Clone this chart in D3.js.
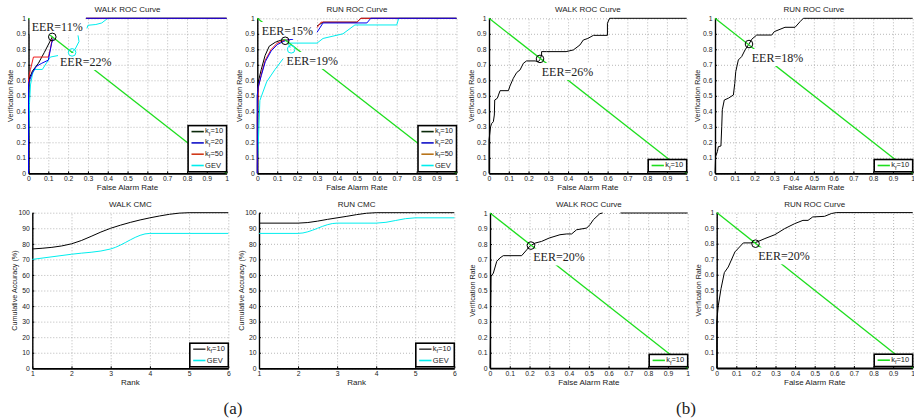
<!DOCTYPE html>
<html>
<head>
<meta charset="utf-8">
<script src="https://cdn.jsdelivr.net/npm/d3@7"></script>
<style>
  body { margin: 0; background: #fff; }
  svg { display: block; }
  text { font-family: "Liberation Sans", Arial, sans-serif; fill: #222; }
  .ann { font-family: "Liberation Serif", "Times New Roman", serif; fill: #222; }
  .grid .domain { display: none; }
  .grid line { stroke: #a6a6a6; stroke-width: 0.8; stroke-dasharray: 1 2; }
  .axis .domain { stroke: #000; }
  .axis line { stroke: #000; }
</style>
</head>
<body>
<svg id="fig" width="914" height="419"></svg>
<script>
// ---- tick values / labels ----
const rocTicks = [0, 0.1, 0.2, 0.3, 0.4, 0.5, 0.6, 0.7, 0.8, 0.9, 1];
const rocTickLabels = ['0', '0.1', '0.2', '0.3', '0.4', '0.5', '0.6', '0.7', '0.8', '0.9', '1'];
const cmcRanks = [1, 2, 3, 4, 5, 6];
const cmcTicks = [0, 10, 20, 30, 40, 50, 60, 70, 80, 90, 100];

// ---- (a) WALK ROC, segments of [far, vr] ----
const walkA_k10 = [
  [[0, 0], [0, 0.6], [0.02, 0.66], [0.05, 0.71], [0.08, 0.78], [0.12, 0.88]],
  [[0.29, 1], [1, 1]]
];
const walkA_k20 = [
  [[0, 0], [0, 0.58], [0.02, 0.65], [0.04, 0.69], [0.067, 0.71], [0.1, 0.73], [0.117, 0.84], [0.125, 0.87]],
  [[0.29, 1], [1, 1]]
];
const walkA_k50 = [
  [[0, 0], [0, 0.61], [0.01, 0.67], [0.025, 0.75], [0.1, 0.75], [0.11, 0.8], [0.12, 0.87]],
  [[0.29, 1], [1, 1]]
];
const walkA_gev = [
  [[0, 0], [0, 0.2], [0.005, 0.45], [0.01, 0.57], [0.02, 0.64], [0.03, 0.67], [0.07, 0.67], [0.1, 0.73], [0.11, 0.75], [0.15, 0.76]],
  [[0.21, 0.77], [0.235, 0.8], [0.255, 0.85], [0.25, 0.89]],
  [[0.295, 0.935], [0.3, 0.955], [0.34, 0.96], [0.37, 0.97], [0.4, 1], [1, 1]]
];
const walkA_eer = [[0.12, 0.88, 'EER=11%'], [0.22, 0.78, 'EER=22%']];

// ---- (a) RUN ROC ----
const runA_k10 = [
  [[0, 0], [0, 0.5], [0.005, 0.59], [0.02, 0.67], [0.039, 0.76], [0.06, 0.82], [0.09, 0.845], [0.12, 0.86], [0.14, 0.86]],
  [[0.3, 0.95], [0.33, 0.975], [0.5, 0.975], [0.52, 1], [1, 1]]
];
const runA_k20 = [
  [[0, 0], [0, 0.5], [0.005, 0.56], [0.02, 0.63], [0.04, 0.72], [0.07, 0.79], [0.1, 0.83], [0.13, 0.85], [0.15, 0.86], [0.18, 0.865]],
  [[0.3, 0.91], [0.33, 0.97], [0.55, 0.97], [0.57, 1], [1, 1]]
];
const runA_k50 = [
  [[0, 0], [0, 0.36], [0.005, 0.55], [0.02, 0.64], [0.04, 0.73], [0.07, 0.8], [0.1, 0.84], [0.14, 0.86], [0.16, 0.86]],
  [[0.3, 0.94], [0.32, 0.975], [0.5, 0.975], [0.52, 1], [1, 1]]
];
const runA_gev = [
  [[0, 0], [0, 0.05], [0.005, 0.19], [0.013, 0.47], [0.047, 0.59], [0.089, 0.67], [0.13, 0.74]],
  [[0.165, 0.81], [0.155, 0.84], [0.3, 0.84], [0.33, 0.87], [0.43, 0.9], [0.49, 0.957], [0.7, 0.957], [0.71, 1], [1, 1]]
];
const runA_eer = [[0.14, 0.855, 'EER=15%'], [0.17, 0.8, 'EER=19%']];

// ---- (a) CMC ----
const walkCmcK10 = [76.7, 80, 90, 96.7, 100, 100];
const walkCmcGev = [70, 73.3, 76.7, 86.7, 86.7, 86.7];
const runCmcK10 = [93.3, 93.3, 96.7, 100, 100, 100];
const runCmcGev = [86.7, 86.7, 93.3, 93.3, 96.7, 96.7];

// ---- (b) ROC, kf = 10 ----
const walkB_k10 = [[
  [0, 0], [0, 0.215], [0.008, 0.3], [0.013, 0.32], [0.022, 0.333], [0.027, 0.376], [0.029, 0.473], [0.042, 0.484],
  [0.056, 0.533], [0.098, 0.533], [0.106, 0.563], [0.123, 0.613], [0.14, 0.65], [0.157, 0.667], [0.174, 0.71],
  [0.19, 0.725], [0.233, 0.725], [0.25, 0.72], [0.258, 0.735], [0.266, 0.763], [0.266, 0.785], [0.29, 0.785],
  [0.39, 0.785], [0.427, 0.796], [0.46, 0.828], [0.477, 0.86], [0.5, 0.87], [0.528, 0.89], [0.599, 0.89],
  [0.599, 0.968], [0.61, 1], [0.63, 1], [1, 1]
]];
const walkB_eer = [[0.258, 0.738, 'EER=26%']];

const runB_k10 = [[
  [0, 0], [0.003, 0.108], [0.012, 0.14], [0.017, 0.172], [0.03, 0.176], [0.034, 0.3], [0.037, 0.41], [0.047, 0.473],
  [0.067, 0.484], [0.093, 0.505], [0.1, 0.58], [0.105, 0.656], [0.118, 0.731], [0.135, 0.753], [0.152, 0.796],
  [0.172, 0.834], [0.186, 0.865], [0.211, 0.892], [0.287, 0.892], [0.3, 0.914], [0.354, 0.942], [0.405, 0.942],
  [0.43, 0.978], [0.447, 1], [1, 1]
]];
const runB_eer = [[0.172, 0.834, 'EER=18%']];

const walkB2_k10 = [
  [[0, 0], [0.002, 0.258], [0.005, 0.59], [0.017, 0.613], [0.034, 0.688], [0.05, 0.71], [0.067, 0.725], [0.16, 0.725],
   [0.186, 0.763], [0.2, 0.785], [0.228, 0.806], [0.261, 0.817], [0.3, 0.839], [0.354, 0.86], [0.388, 0.865],
   [0.413, 0.865], [0.438, 0.892], [0.489, 0.903], [0.506, 0.925], [0.523, 0.957], [0.556, 0.996], [0.57, 1]],
  [[0.66, 1], [1, 1]]
];
const walkB2_eer = [[0.207, 0.79, 'EER=20%']];

const runB2_k10 = [[
  [0, 0], [0, 0.296], [0.008, 0.4], [0.022, 0.51], [0.039, 0.614], [0.059, 0.65], [0.093, 0.747], [0.136, 0.805],
  [0.17, 0.805], [0.2, 0.808], [0.246, 0.833], [0.297, 0.858], [0.347, 0.897], [0.398, 0.929], [0.44, 0.95],
  [0.466, 0.95], [0.49, 0.972], [0.55, 0.976], [0.585, 0.994], [0.61, 1], [1, 1]
]];
const runB2_eer = [[0.198, 0.8, 'EER=20%']];

const eerLine = [[0, 1], [1, 0]];

// ---- colours ----
const cBlack = '#000', cBlue = '#0000f0', cRed = '#ee1c1c', cCyan = '#00eeee', cGreen = '#1ede1e';

const svg = d3.select('#fig');
svg.append('rect').attr('width', 914).attr('height', 419).attr('fill', '#fff');

function frame(g, x, y, ticksX, ticksY, fmtX, fmtY, p) {
  const w = p.x1 - p.x0, h = p.y0 - p.y1;
  g.append('g').attr('class', 'grid').attr('transform', `translate(0,${p.y0})`)
    .call(d3.axisBottom(x).tickValues(ticksX).tickSize(-h).tickFormat(''));
  g.append('g').attr('class', 'grid').attr('transform', `translate(${p.x0},0)`)
    .call(d3.axisLeft(y).tickValues(ticksY).tickSize(-w).tickFormat(''));

  const ax = g.append('g').attr('class', 'axis').attr('transform', `translate(0,${p.y0})`)
    .call(d3.axisBottom(x).tickValues(ticksX).tickFormat(fmtX).tickSizeInner(-2).tickSizeOuter(0).tickPadding(3));
  ax.select('.domain').attr('stroke-width', 1.8);
  const ay = g.append('g').attr('class', 'axis').attr('transform', `translate(${p.x0},0)`)
    .call(d3.axisLeft(y).tickValues(ticksY).tickFormat(fmtY).tickSizeInner(-2).tickSizeOuter(0).tickPadding(2.5));
  ay.select('.domain').attr('stroke-width', 1.4);
  g.selectAll('.axis text').attr('font-size', 6.8).attr('font-family', '"Liberation Sans", Arial, sans-serif').attr('fill', '#222');

  g.append('text').attr('x', (p.x0 + p.x1) / 2).attr('y', p.y1 - 6)
    .attr('text-anchor', 'middle').attr('font-size', 8).text(p.title);
  g.append('text').attr('x', (p.x0 + p.x1) / 2).attr('y', p.y0 + 17)
    .attr('text-anchor', 'middle').attr('font-size', 8).text(p.xlabel);
  g.append('text').attr('transform', `translate(${p.x0 - 15.5},${(p.y0 + p.y1) / 2}) rotate(-90)`)
    .attr('text-anchor', 'middle').attr('font-size', 7.2).text(p.ylabel);
}

function legend(g, p, items) {
  const bw = 38.5, rowH = 11.3;
  const bh = rowH * items.length + 1;
  const bx = p.x1 - bw, by = p.y0 - 1.5 - bh;
  g.append('rect').attr('x', bx).attr('y', by).attr('width', bw).attr('height', bh)
    .attr('fill', '#fff').attr('stroke', '#000').attr('stroke-width', 1.6);
  items.forEach((it, i) => {
    const cy = by + 6 + i * rowH;
    g.append('line').attr('x1', bx + 3.4).attr('x2', bx + 15.7).attr('y1', cy).attr('y2', cy)
      .attr('stroke', it.color).attr('stroke-width', 1.6);
    const t = g.append('text').attr('x', bx + 17).attr('y', cy + 2.5).attr('font-size', 7.5);
    if (it.sub) {
      t.append('tspan').attr('dy', -1).text(it.main);
      t.append('tspan').attr('dy', 2.6).attr('font-size', 5.5).text(it.sub);
      t.append('tspan').attr('dy', -2.6).text(it.rest);
    } else {
      t.text(it.main);
    }
  });
}

function rocPanel(p) {
  const g = svg.append('g');
  const x = d3.scaleLinear().domain([0, 1]).range([p.x0, p.x1]);
  const y = d3.scaleLinear().domain([0, 1]).range([p.y0, p.y1]);
  frame(g, x, y, rocTicks, rocTicks, (d, i) => rocTickLabels[i], (d, i) => rocTickLabels[i], p);

  const line = d3.line().x(d => x(d[0])).y(d => y(d[1]));
  p.curves.forEach(([segs, color]) => {
    segs.forEach(seg => {
      g.append('path').datum(seg).attr('d', line).attr('fill', 'none')
        .attr('stroke', color).attr('stroke-width', 1).attr('stroke-linejoin', 'round');
    });
  });
  g.append('path').datum(eerLine).attr('d', line).attr('fill', 'none')
    .attr('stroke', cGreen).attr('stroke-width', 1.3);

  // EER labels with white background
  p.eer.forEach(([pt, color], i) => {
    const [tx, ty] = p.notes[i];
    const t = g.append('text').attr('class', 'ann').attr('x', x(tx)).attr('y', y(ty))
      .attr('font-size', 12).text(pt[2]);
    const b = t.node().getBBox();
    g.insert('rect', () => t.node()).attr('x', b.x - 2).attr('y', b.y - 2)
      .attr('width', b.width + 4).attr('height', b.height + 3).attr('fill', '#fff');
  });
  p.eer.forEach(([pt, color]) => {
    g.append('circle').attr('cx', x(pt[0])).attr('cy', y(pt[1])).attr('r', 3.8)
      .attr('fill', 'none').attr('stroke', color).attr('stroke-width', 1);
  });
  legend(g, p, p.legend);
}

function cmcPanel(p) {
  const g = svg.append('g');
  const x = d3.scaleLinear().domain([1, 6]).range([p.x0, p.x1]);
  const y = d3.scaleLinear().domain([0, 100]).range([p.y0, p.y1]);
  frame(g, x, y, cmcRanks, cmcTicks, d => d, d => d, p);
  const line = d3.line().x((d, i) => x(cmcRanks[i])).y(d => y(d)).curve(d3.curveMonotoneX);
  p.curves.forEach(([vals, color]) => {
    g.append('path').datum(vals).attr('d', line).attr('fill', 'none')
      .attr('stroke', color).attr('stroke-width', 1);
  });
  legend(g, p, p.legend);
}

const kf = (rest, color) => ({ main: 'k', sub: 'f', rest, color });
const legendA = [kf('=10', '#0b2a0b'), kf('=20', '#1010c8'), kf('=50', '#d03a1a'), { main: 'GEV', color: cCyan }];
const legendA2 = [kf('=10', '#0b2a0b'), kf('=20', '#1010c8'), kf('=50', '#b8741a'), { main: 'GEV', color: cCyan }];
const legendB = [kf('=10', cGreen)];
const legendC = [kf('=10', '#444'), { main: 'GEV', color: cCyan }];

const rocText = { xlabel: 'False Alarm Rate', ylabel: 'Verification Rate' };
const cmcText = { xlabel: 'Rank', ylabel: 'Cumulative Accuracy (%)' };

rocPanel({ ...rocText, title: 'WALK ROC Curve', x0: 28.5, x1: 226.6, y1: 18.3, y0: 173.3,
  curves: [[walkA_gev, cCyan], [walkA_k10, cBlack], [walkA_k50, cRed], [walkA_k20, cBlue]],
  eer: [[walkA_eer[0], cBlack], [walkA_eer[1], cCyan]], notes: [[0.016, 0.918], [0.159, 0.692]], legend: legendA });

rocPanel({ ...rocText, title: 'RUN ROC Curve', x0: 257.3, x1: 456.5, y1: 18.3, y0: 173.3,
  curves: [[runA_gev, cCyan], [runA_k10, cBlack], [runA_k50, cRed], [runA_k20, cBlue]],
  eer: [[runA_eer[0], cBlack], [runA_eer[1], cCyan]], notes: [[0.022, 0.892], [0.147, 0.699]], legend: legendA2 });

cmcPanel({ ...cmcText, title: 'WALK CMC', x0: 32.3, x1: 228.3, y1: 212.7, y0: 368.3,
  curves: [[walkCmcK10, cBlack], [walkCmcGev, cCyan]], legend: legendC });

cmcPanel({ ...cmcText, title: 'RUN CMC', x0: 259, x1: 454.3, y1: 212.7, y0: 368.3,
  curves: [[runCmcK10, cBlack], [runCmcGev, cCyan]], legend: legendC });

rocPanel({ ...rocText, title: 'WALK ROC Curve', x0: 489, x1: 686.7, y1: 18.3, y0: 173.3,
  curves: [[walkB_k10, cBlack]], eer: [[walkB_eer[0], cBlack]], notes: [[0.267, 0.628]], legend: legendB });

rocPanel({ ...rocText, title: 'RUN ROC Curve', x0: 715, x1: 912.7, y1: 18.3, y0: 173.3,
  curves: [[runB_k10, cBlack]], eer: [[runB_eer[0], cBlack]], notes: [[0.186, 0.718]], legend: legendB });

rocPanel({ ...rocText, title: 'WALK ROC Curve', x0: 490, x1: 687.7, y1: 213, y0: 368.2,
  curves: [[walkB2_k10, cBlack]], eer: [[walkB2_eer[0], cBlack]], notes: [[0.219, 0.688]], legend: legendB });

rocPanel({ ...rocText, title: 'RUN ROC Curve', x0: 716.7, x1: 912.7, y1: 212.6, y0: 368,
  curves: [[runB2_k10, cBlack]], eer: [[runB2_eer[0], cBlack]], notes: [[0.212, 0.693]], legend: legendB });

// sub-figure captions
svg.append('text').attr('class', 'ann').attr('x', 233).attr('y', 414).attr('text-anchor', 'middle')
  .attr('font-size', 17).text('(a)');
svg.append('text').attr('class', 'ann').attr('x', 686).attr('y', 414).attr('text-anchor', 'middle')
  .attr('font-size', 17).text('(b)');
</script>
</body>
</html>
